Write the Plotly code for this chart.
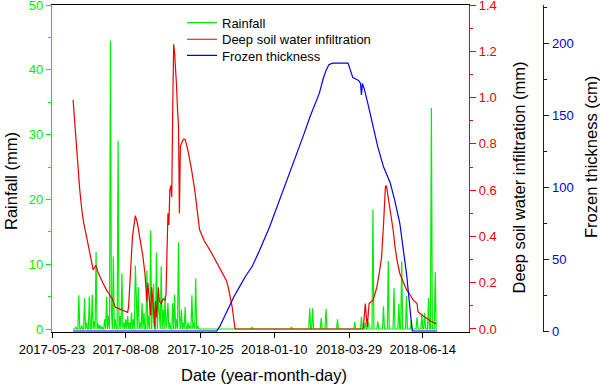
import pandas as pd
import plotly.graph_objects as go

# ---------------- data ----------------
x_tick_labels = ["2017-05-23", "2017-08-08", "2017-10-25", "2018-01-10", "2018-03-29", "2018-06-14"]

series_start = "2017-06-14"
series_end = "2018-06-29"

rain_dates = [
    "2017-06-17", "2017-06-20", "2017-06-23", "2017-06-26", "2017-06-28", "2017-07-01", "2017-07-04",
    "2017-07-06", "2017-07-08", "2017-07-10", "2017-07-12", "2017-07-14", "2017-07-17", "2017-07-19",
    "2017-07-21", "2017-07-23", "2017-07-24", "2017-07-26", "2017-07-28", "2017-07-31", "2017-08-02",
    "2017-08-04", "2017-08-06", "2017-08-08", "2017-08-10", "2017-08-12", "2017-08-14", "2017-08-16",
    "2017-08-18", "2017-08-19", "2017-08-21", "2017-08-23", "2017-08-25", "2017-08-27", "2017-08-30",
    "2017-09-01", "2017-09-03", "2017-09-05", "2017-09-06", "2017-09-09", "2017-09-11", "2017-09-12",
    "2017-09-14", "2017-09-16", "2017-09-18", "2017-09-20", "2017-09-21", "2017-09-23", "2017-09-26",
    "2017-09-28", "2017-09-30", "2017-10-02", "2017-10-03", "2017-10-05", "2017-10-07", "2017-10-09",
    "2017-10-12", "2017-10-14", "2017-10-16", "2017-10-18", "2017-10-20", "2017-10-22",
    "2017-12-18", "2018-01-28", "2018-02-16", "2018-02-19", "2018-02-28", "2018-03-05", "2018-03-17",
    "2018-04-04", "2018-04-11", "2018-04-15", "2018-04-18", "2018-04-23", "2018-04-28", "2018-05-04",
    "2018-05-09", "2018-05-15", "2018-05-20", "2018-05-23", "2018-05-28", "2018-06-02", "2018-06-08",
    "2018-06-13", "2018-06-16", "2018-06-20", "2018-06-23", "2018-06-27",
]
rain_values = [
    0.3, 5.2, 0.5, 4.8, 1.0, 5.0, 5.3,
    1.2, 11.9, 0.8, 0.6, 0.4, 1.5, 5.0,
    2.0, 44.5, 3.0, 11.2, 1.5, 29.0, 2.0,
    8.6, 1.0, 1.5, 2.0, 1.0, 2.5, 1.5,
    9.8, 3.0, 6.5, 1.0, 4.0, 2.5, 9.0,
    2.0, 15.2, 3.0, 7.0, 11.8, 5.0, 2.0,
    9.7, 3.0, 5.0, 1.5, 4.0, 1.0, 4.0,
    5.3, 1.5, 13.4, 2.0, 3.0, 1.0, 3.4,
    1.0, 0.5, 5.2, 1.0, 7.8, 0.5,
    0.3, 0.3, 3.2, 3.2, 1.7, 3.1, 1.5,
    1.1, 1.9, 1.0, 1.2, 18.5, 1.2, 3.5,
    10.5, 6.3, 3.9, 10.4, 5.1, 1.4, 1.8,
    2.4, 2.5, 4.8, 34.1, 8.8,
]

infil_dates = [
    "2017-06-14", "2017-06-16", "2017-06-19", "2017-06-21", "2017-06-23", "2017-06-25", "2017-06-28",
    "2017-06-30", "2017-07-03", "2017-07-05", "2017-07-07", "2017-07-08", "2017-07-10", "2017-07-12",
    "2017-07-15", "2017-07-19", "2017-07-22", "2017-07-25", "2017-07-28", "2017-08-01", "2017-08-05",
    "2017-08-08", "2017-08-10", "2017-08-11", "2017-08-13", "2017-08-15", "2017-08-18", "2017-08-20",
    "2017-08-23", "2017-08-26", "2017-08-28", "2017-08-29", "2017-08-30", "2017-08-31", "2017-09-01",
    "2017-09-02", "2017-09-03", "2017-09-04", "2017-09-05", "2017-09-06", "2017-09-07", "2017-09-08",
    "2017-09-09", "2017-09-10", "2017-09-11", "2017-09-12", "2017-09-14", "2017-09-16", "2017-09-18",
    "2017-09-19", "2017-09-20", "2017-09-21", "2017-09-22", "2017-09-23", "2017-09-24", "2017-09-25",
    "2017-09-26", "2017-09-27", "2017-09-28", "2017-09-29", "2017-09-30", "2017-10-01", "2017-10-02",
    "2017-10-03", "2017-10-04", "2017-10-05", "2017-10-07", "2017-10-09", "2017-10-12", "2017-10-16",
    "2017-10-19", "2017-10-24", "2017-10-29", "2017-11-04", "2017-11-09", "2017-11-14", "2017-11-21",
    "2017-11-23", "2017-11-27", "2017-11-30", "2017-12-01", "2018-04-12", "2018-04-13", "2018-04-15",
    "2018-04-16", "2018-04-17", "2018-04-19", "2018-04-21", "2018-04-23", "2018-04-25", "2018-04-27",
    "2018-04-29", "2018-05-02", "2018-05-04", "2018-05-06", "2018-05-07", "2018-05-09", "2018-05-11",
    "2018-05-14", "2018-05-16", "2018-05-18", "2018-05-21", "2018-05-25", "2018-05-28", "2018-06-01",
    "2018-06-04", "2018-06-08", "2018-06-09", "2018-06-13", "2018-06-18", "2018-06-23", "2018-06-28",
]
infil_values = [
    0.99, 0.88, 0.68, 0.60, 0.52, 0.46, 0.40,
    0.36, 0.29, 0.255, 0.27, 0.275, 0.245, 0.226,
    0.20, 0.168, 0.150, 0.13, 0.095, 0.088, 0.082,
    0.077, 0.072, 0.10, 0.233, 0.40, 0.49, 0.46,
    0.385, 0.31, 0.24, 0.168, 0.12, 0.20, 0.14,
    0.125, 0.06, 0.18, 0.10, 0.082, 0.01, 0.12,
    0.05, 0.15, 0.18, 0.12, 0.11, 0.13, 0.125,
    0.15, 0.30, 0.50, 0.45, 0.60, 0.62, 0.57,
    0.95, 1.23, 1.19, 1.13, 1.05, 0.95, 0.88,
    0.50, 0.79, 0.80, 0.82, 0.82, 0.77, 0.68,
    0.60, 0.43, 0.38, 0.34, 0.30, 0.26, 0.21,
    0.18, 0.096, 0.003, 0.0, 0.0, 0.005, 0.11,
    0.05, 0.01, 0.11, 0.12, 0.125, 0.15, 0.18,
    0.226, 0.31, 0.45, 0.615, 0.62, 0.57, 0.50,
    0.43, 0.356, 0.30, 0.24, 0.20, 0.17, 0.147,
    0.125, 0.11, 0.075, 0.06, 0.046, 0.032, 0.022,
]

frozen_dates = [
    "2017-06-14", "2017-11-11", "2017-11-14", "2017-11-19", "2017-11-24", "2017-11-29", "2017-12-05",
    "2017-12-11", "2017-12-18", "2017-12-25", "2018-01-05", "2018-01-14", "2018-01-23", "2018-02-01",
    "2018-02-09", "2018-02-17", "2018-02-26", "2018-03-02", "2018-03-05", "2018-03-08", "2018-03-12",
    "2018-03-28", "2018-04-02", "2018-04-05", "2018-04-08", "2018-04-10", "2018-04-11", "2018-04-12",
    "2018-04-14", "2018-04-18", "2018-04-23", "2018-04-28", "2018-05-04", "2018-05-08", "2018-05-11",
    "2018-05-16", "2018-05-21", "2018-05-24", "2018-05-28", "2018-05-31", "2018-06-02", "2018-06-03",
    "2018-06-29",
]
frozen_values = [
    0, 0, 3, 10, 17, 24, 31,
    38, 45, 55, 72, 88, 105, 120,
    135, 150, 165, 175, 181, 185, 186,
    186, 176, 175, 174, 172, 164, 172,
    168, 157, 142, 128, 114, 108, 103,
    90, 75, 60, 40, 20, 3, 0,
    0,
]

# daily rainfall series (days without rain recorded as 0)
days = pd.date_range(series_start, series_end, freq="D")
rain = pd.Series(rain_values, index=pd.to_datetime(rain_dates)).reindex(days, fill_value=0.0)

GREEN = "#00ee00"
RED = "#ee0000"
BLUE = "#0000ee"
FONT = "Liberation Sans, Arial, sans-serif"

fig = go.Figure()
fig.add_trace(go.Scatter(x=rain.index, y=rain.values, mode="lines", name="Rainfall",
                         line=dict(color=GREEN, width=1.2), yaxis="y", legend="legend"))
fig.add_trace(go.Scatter(x=pd.to_datetime(infil_dates), y=infil_values, mode="lines",
                         name="Deep soil water infiltration", line=dict(color=RED, width=1.2),
                         yaxis="y2", legend="legend2"))
fig.add_trace(go.Scatter(x=pd.to_datetime(frozen_dates), y=frozen_values, mode="lines",
                         name="Frozen thickness", line=dict(color=BLUE, width=1.2),
                         yaxis="y3", legend="legend3"))

L, R_MARGIN, T, B = 52, 40, 5, 52
paper_w = 600 - L - R_MARGIN
paper_h = 384 - T - B
bottom_px = 384 - B
x_dom_end = (469 - L) / paper_w


def px_x(x):
    return (x - L) / paper_w


def px_y(y):
    return (bottom_px - y) / paper_h


def leg(ypix):
    return dict(x=px_x(182), y=px_y(ypix), xanchor="left", yanchor="middle",
                bgcolor="rgba(0,0,0,0)", borderwidth=0, font=dict(size=13, color="black", family=FONT))


fig.update_layout(
    width=600, height=384,
    margin=dict(l=L, r=R_MARGIN, t=T, b=B, autoexpand=False),
    paper_bgcolor="white", plot_bgcolor="white",
    font=dict(family=FONT, size=13, color="black"),
    showlegend=True,
    legend=leg(22.7), legend2=leg(39.3), legend3=leg(55.5),
    xaxis=dict(
        type="date", domain=[0, x_dom_end], automargin=False,
        range=["2017-05-23", "2018-08-01 06:00"],
        tickvals=x_tick_labels, ticktext=x_tick_labels,
        showline=True, linecolor="black", linewidth=1.3, mirror=True,
        ticks="outside", ticklen=5, tickcolor="black", tickwidth=1.3,
        tickfont=dict(size=13, color="black"),
        showgrid=False, zeroline=False, ticklabeloverflow="allow",
    ),
    yaxis=dict(
        range=[-0.46, 50.001], tick0=0, dtick=10, automargin=False,
        showline=True, linecolor=GREEN, linewidth=1.3,
        ticks="outside", ticklen=5, tickcolor=GREEN, tickwidth=1.3,
        minor=dict(ticks="outside", ticklen=3, dtick=5, tickcolor=GREEN, tickwidth=1.3),
        tickfont=dict(size=13, color=GREEN),
        showgrid=False, zeroline=False, ticklabeloverflow="allow",
    ),
    yaxis2=dict(
        overlaying="y", side="right", anchor="x", automargin=False,
        range=[-0.013, 1.4001], tick0=0, dtick=0.2, tickformat=".1f",
        showline=True, linecolor=RED, linewidth=1.3,
        ticks="outside", ticklen=6, tickcolor=RED, tickwidth=1.3,
        minor=dict(ticks="outside", ticklen=3, dtick=0.1, tickcolor=RED, tickwidth=1.3),
        tickfont=dict(size=13, color=RED),
        showgrid=False, zeroline=False, ticklabeloverflow="allow",
    ),
    yaxis3=dict(
        overlaying="y", side="right", anchor="free", position=px_x(543.3), automargin=False,
        range=[-0.69, 226.4], tick0=0, dtick=50,
        showline=True, linecolor=BLUE, linewidth=1.3,
        ticks="outside", ticklen=5, tickcolor=BLUE, tickwidth=1.3,
        minor=dict(ticks="outside", ticklen=3, dtick=25, tickcolor=BLUE, tickwidth=1.3),
        tickfont=dict(size=13, color=BLUE),
        showgrid=False, zeroline=False, ticklabeloverflow="allow",
    ),
)

title_font = dict(size=16.5, color="black", family=FONT)
fig.add_annotation(text="Date (year-month-day)", x=px_x(264), y=px_y(375), xref="paper", yref="paper",
                   showarrow=False, font=title_font, xanchor="center", yanchor="middle")
fig.add_annotation(text="Rainfall (mm)", x=px_x(11), y=px_y(181), xref="paper", yref="paper",
                   showarrow=False, font=title_font, textangle=-90, xanchor="center", yanchor="middle")
fig.add_annotation(text="Deep soil water infiltration (mm)", x=px_x(518), y=px_y(177.5), xref="paper",
                   yref="paper", showarrow=False, font=title_font, textangle=-90,
                   xanchor="center", yanchor="middle")
fig.add_annotation(text="Frozen thickness (cm)", x=px_x(591), y=px_y(157), xref="paper", yref="paper",
                   showarrow=False, font=title_font, textangle=-90, xanchor="center", yanchor="middle")

fig.write_html("out.html", config={"displayModeBar": False},
               post_script="document.body.style.margin='0';document.body.style.overflow='hidden';")
